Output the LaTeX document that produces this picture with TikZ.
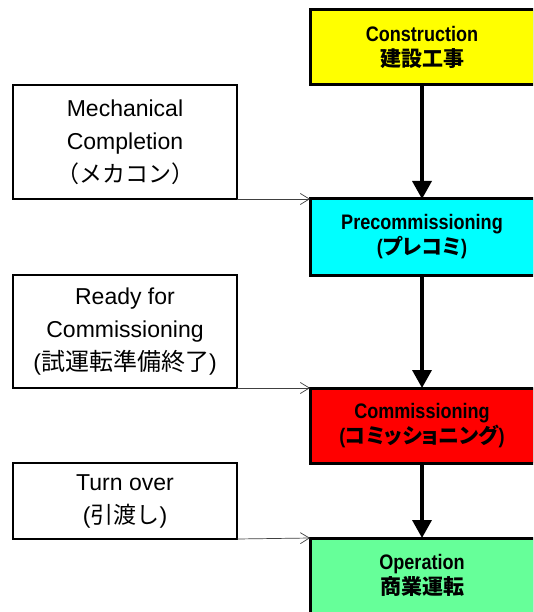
\documentclass[tikz,border=0pt]{standalone}
\usepackage{fontspec}
\setmainfont{Liberation Sans}
\newfontfamily\jp{Noto Sans CJK JP}
\newfontfamily\jpp[RawFeature=+palt]{Noto Sans CJK JP}
\newfontfamily\nb[FakeStretch=0.86]{Liberation Sans}
\usetikzlibrary{arrows.meta}
\definecolor{stageyellow}{HTML}{FFFF00}
\definecolor{stagecyan}{HTML}{00FFFF}
\definecolor{stagered}{HTML}{FF0000}
\definecolor{stagegreen}{HTML}{66FF99}
\begin{document}
\begin{tikzpicture}[x=1pt,y=-1pt,
  stage/.style={draw, line width=3pt, outer sep=0pt, inner sep=0pt,
    minimum width=224pt, minimum height=75pt, anchor=north west, align=center,
    font=\nb\bfseries\fontsize{21}{25}\selectfont},
  event/.style={draw, line width=2.5pt, outer sep=0pt, inner sep=0pt,
    minimum width=224pt, anchor=north west, align=center, fill=white,
    font=\fontsize{23}{33}\selectfont},
  flow/.style={line width=3.5pt, -{Triangle[length=18pt,width=19pt]}},
  trig/.style={line width=0.7pt, draw=black!75, -{Straight Barb[length=9pt,width=11pt]}}]
\clip (0,0) rectangle (533,612);
\fill[white] (0,0) rectangle (533,612);
% stages
\node[stage, fill=stageyellow] (con) at (310,10) {Construction\\{\jp\bfseries 建設工事}};
\node[stage, fill=stagecyan, minimum height=76pt] (pre) at (310,199) {Precommissioning\\({\jpp\bfseries プレコミ})};
\node[stage, fill=stagered] (com) at (310,388) {Commissioning\\({\jpp\bfseries コミッショニング})};
\node[stage, fill=stagegreen] (ope) at (310,538) {Operation\\{\jp\bfseries 商業運転}};
% events
\node[event, minimum height=114pt] (mc) at (13,85) {Mechanical\\Completion\\{\jp （メカコン）}};
\node[event, minimum height=113pt] (rfc) at (13,275) {Ready for\\Commissioning\\({\jp\fontsize{24}{33}\selectfont 試運転準備終了})};
\node[event, minimum height=76pt] (to) at (13,463) {Turn over\\({\jp 引渡し})};
% flow arrows
\draw[flow] (con.south) -- (pre.north);
\draw[flow] (pre.south) -- (com.north);
\draw[flow] (com.south) -- (ope.north);
% trigger connectors
\draw[trig] (mc.south east) -- (pre.north west);
\draw[trig] (rfc.south east) -- (com.north west);
\draw[trig] (to.south east) -- (ope.north west);
\end{tikzpicture}
\end{document}
